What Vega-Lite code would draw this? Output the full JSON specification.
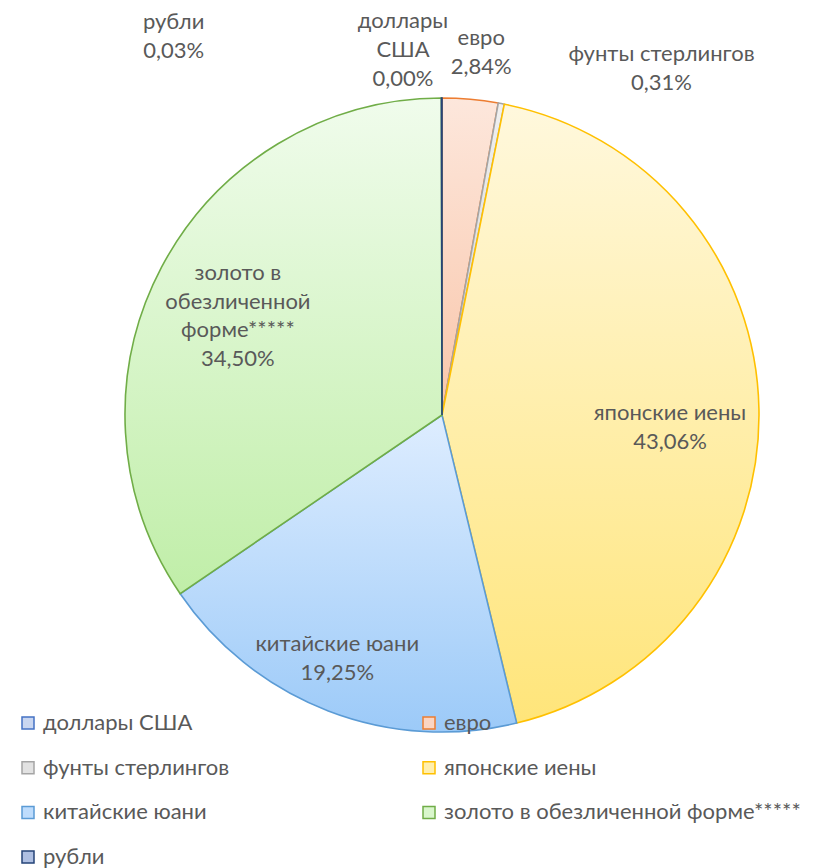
{
  "$schema": "https://vega.github.io/schema/vega-lite/v6.json",
  "width": 748,
  "height": 830,
  "autosize": {"type": "none"},
  "padding": {"left": 68, "top": 0, "right": 0, "bottom": 38},
  "background": "white",
  "config": {"view": {"stroke": null}, "font": "Lato"},
  "data": {"values": [
    {"i": 1, "k": "доллары США", "v": 0, "label": "доллары\nСША\n0,00%"},
    {"i": 2, "k": "евро", "v": 2.84, "label": "евро\n2,84%"},
    {"i": 3, "k": "фунты стерлингов", "v": 0.31, "label": "фунты стерлингов\n0,31%"},
    {"i": 4, "k": "японские иены", "v": 43.06, "label": "японские иены\n43,06%"},
    {"i": 5, "k": "китайские юани", "v": 19.25, "label": "китайские юани\n19,25%"},
    {"i": 6, "k": "золото в обезличенной форме*****", "v": 34.50, "label": "золото в\nобезличенной\nформе*****\n34,50%"},
    {"i": 7, "k": "рубли", "v": 0.03, "label": "рубли\n0,03%"}
  ]},
  "encoding": {
    "theta": {"field": "v", "type": "quantitative", "stack": true},
    "order": {"field": "i", "type": "quantitative"}
  },
  "layer": [
    {
      "mark": {"type": "arc", "outerRadius": 317, "strokeWidth": 1.6},
      "encoding": {
        "color": {
          "field": "k", "type": "nominal",
          "condition": [
            {"test": "datum.k === 'доллары США'", "value": {"gradient": "linear", "x1": 0, "y1": 0, "x2": 0, "y2": 1, "stops": [{"offset": 0, "color": "#DCE4F5"}, {"offset": 1, "color": "#AFC3EA"}]}},
            {"test": "datum.k === 'евро'", "value": {"gradient": "linear", "x1": 0, "y1": 0, "x2": 0, "y2": 1, "stops": [{"offset": 0, "color": "#FDE7DC"}, {"offset": 1, "color": "#F9C6AA"}]}},
            {"test": "datum.k === 'фунты стерлингов'", "value": {"gradient": "linear", "x1": 0, "y1": 0, "x2": 0, "y2": 1, "stops": [{"offset": 0, "color": "#F0F0F0"}, {"offset": 1, "color": "#D2D2D2"}]}},
            {"test": "datum.k === 'японские иены'", "value": {"gradient": "linear", "x1": 0, "y1": 0, "x2": 0, "y2": 1, "stops": [{"offset": 0, "color": "#FFF8DD"}, {"offset": 1, "color": "#FFE57A"}]}},
            {"test": "datum.k === 'китайские юани'", "value": {"gradient": "linear", "x1": 0, "y1": 0, "x2": 0, "y2": 1, "stops": [{"offset": 0, "color": "#DEEDFF"}, {"offset": 1, "color": "#9CCAF8"}]}},
            {"test": "datum.k === 'золото в обезличенной форме*****'", "value": {"gradient": "linear", "x1": 0, "y1": 0, "x2": 0, "y2": 1, "stops": [{"offset": 0, "color": "#F0FCEC"}, {"offset": 1, "color": "#C0EEA8"}]}},
            {"test": "datum.k === 'рубли'", "value": {"gradient": "linear", "x1": 0, "y1": 0, "x2": 0, "y2": 1, "stops": [{"offset": 0, "color": "#C5D1EA"}, {"offset": 1, "color": "#8FA5D3"}]}}
          ],
          "scale": {
            "domain": ["доллары США", "евро", "фунты стерлингов", "японские иены", "китайские юани", "золото в обезличенной форме*****", "рубли"],
            "range": ["#C9D6F0", "#FBD5C2", "#E2E2E2", "#FFEFAE", "#BEDCFC", "#D9F6CC", "#AEBFE2"]
          },
          "legend": {
            "title": null, "orient": "none", "legendX": -51, "legendY": 712,
            "direction": "horizontal", "columns": 2, "columnPadding": 188, "rowPadding": 22.7,
            "symbolType": "square", "symbolSize": 144, "symbolStrokeWidth": 1.5,
            "labelFont": "Lato", "labelFontSize": 22, "labelColor": "#595959", "labelOffset": 4, "labelLimit": 500, "padding": 0
          }
        },
        "stroke": {
          "field": "k", "type": "nominal",
          "scale": {
            "domain": ["доллары США", "евро", "фунты стерлингов", "японские иены", "китайские юани", "золото в обезличенной форме*****", "рубли"],
            "range": ["#4472C4", "#ED7D31", "#A5A5A5", "#FFC000", "#5B9BD5", "#70AD47", "#264478"]
          },
          "legend": {
            "title": null, "orient": "none", "legendX": -51, "legendY": 712,
            "direction": "horizontal", "columns": 2, "columnPadding": 188, "rowPadding": 22.7,
            "symbolType": "square", "symbolSize": 144, "symbolStrokeWidth": 1.5,
            "labelFont": "Lato", "labelFontSize": 22, "labelColor": "#595959", "labelOffset": 4, "labelLimit": 500, "padding": 0
          }
        }
      }
    },
    {
      "mark": {"type": "text", "radius": 228, "dy": 3, "fontSize": 22, "font": "Lato", "fill": "#595959", "lineBreak": "\n", "lineHeight": 29, "align": "center", "baseline": "middle"},
      "encoding": {"text": {"condition": {"test": "datum.k === 'японские иены'", "field": "label"}, "value": ""}}
    },
    {
      "mark": {"type": "text", "radius": 264, "dx": -10, "dy": -17, "fontSize": 22, "font": "Lato", "fill": "#595959", "lineBreak": "\n", "lineHeight": 29, "align": "center", "baseline": "middle"},
      "encoding": {"text": {"condition": {"test": "datum.k === 'китайские юани'", "field": "label"}, "value": ""}}
    },
    {
      "mark": {"type": "text", "radius": 216, "dx": -13, "dy": -41, "fontSize": 22, "font": "Lato", "fill": "#595959", "lineBreak": "\n", "lineHeight": 28.5, "align": "center", "baseline": "middle"},
      "encoding": {"text": {"condition": {"test": "datum.k === 'золото в обезличенной форме*****'", "field": "label"}, "value": ""}}
    },
    {
      "mark": {"type": "text", "radius": 350, "dx": -268, "dy": -43, "fontSize": 22, "font": "Lato", "fill": "#595959", "lineBreak": "\n", "lineHeight": 28.5, "align": "center", "baseline": "middle"},
      "encoding": {"text": {"condition": {"test": "datum.k === 'рубли'", "field": "label"}, "value": ""}}
    },
    {
      "mark": {"type": "text", "radius": 350, "dx": -39, "dy": -44, "fontSize": 22, "font": "Lato", "fill": "#595959", "lineBreak": "\n", "lineHeight": 29, "align": "center", "baseline": "middle"},
      "encoding": {"text": {"condition": {"test": "datum.k === 'доллары США'", "field": "label"}, "value": ""}}
    },
    {
      "mark": {"type": "text", "radius": 350, "dx": 8, "dy": -28, "fontSize": 22, "font": "Lato", "fill": "#595959", "lineBreak": "\n", "lineHeight": 29, "align": "center", "baseline": "middle"},
      "encoding": {"text": {"condition": {"test": "datum.k === 'евро'", "field": "label"}, "value": ""}}
    },
    {
      "mark": {"type": "text", "radius": 350, "dx": 154, "dy": -17, "fontSize": 22, "font": "Lato", "fill": "#595959", "lineBreak": "\n", "lineHeight": 29, "align": "center", "baseline": "middle"},
      "encoding": {"text": {"condition": {"test": "datum.k === 'фунты стерлингов'", "field": "label"}, "value": ""}}
    }
  ]
}
